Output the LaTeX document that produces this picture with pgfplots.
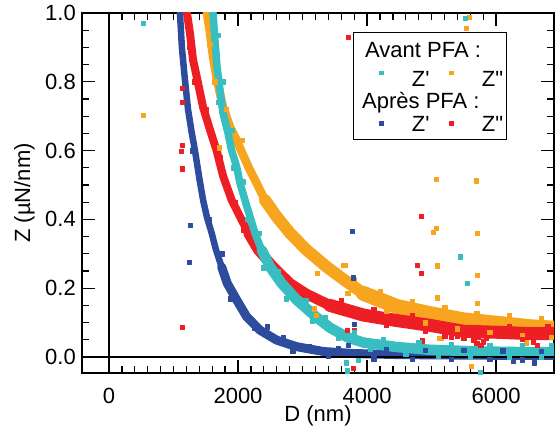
\documentclass[border=0pt]{standalone}
\usepackage{fontspec}
\setmainfont{Liberation Sans}
\usepackage{pgfplots}
\usepackage{pgfplotstable}
\pgfplotsset{compat=1.18}
\definecolor{cZa}{RGB}{56,190,193}
\definecolor{cZb}{RGB}{247,165,30}
\definecolor{bZa}{RGB}{46,76,158}
\definecolor{bZb}{RGB}{237,30,36}
\newcommand{\bigf}{\fontsize{22}{26}\selectfont}

\pgfplotstableread{
x y
1080 1.06
1100 1.00
1130 0.90
1175 0.81
1225 0.72
1280 0.655
1333 0.60
1400 0.52
1460 0.455
1520 0.405
1592 0.36
1659 0.311
1746 0.262
1834 0.214
1979 0.166
2134 0.117
2341 0.078
2599 0.049
2909 0.030
3322 0.016
3800 0.010
4500 0.007
5200 0.006
6000 0.005
6950 0.005
}\blueZa

\pgfplotstableread{
x y
1195 1.05
1209 1.00
1256 0.94
1302 0.865
1380 0.797
1457 0.727
1566 0.66
1669 0.60
1770 0.525
1902 0.456
2031 0.408
2160 0.360
2315 0.311
2547 0.262
2806 0.214
3064 0.183
3426 0.150
3942 0.122
4459 0.106
4976 0.092
5492 0.075
6009 0.072
6526 0.068
6950 0.068
}\redZb

\pgfplotstableread{
x y
1600 1.05
1612 1.00
1643 0.92
1674 0.845
1721 0.776
1767 0.709
1845 0.651
1902 0.60
1979 0.553
2031 0.505
2108 0.456
2186 0.408
2263 0.360
2367 0.311
2496 0.262
2677 0.214
2909 0.166
3219 0.115
3426 0.085
3700 0.057
3942 0.042
4459 0.029
4976 0.021
5750 0.016
6526 0.014
6950 0.014
}\cyanZa

\pgfplotstableread{
x y
1505 1.05
1519 1.00
1566 0.942
1612 0.872
1674 0.805
1767 0.727
1876 0.669
1984 0.628
2060 0.595
2160 0.553
2289 0.505
2418 0.456
2599 0.408
2806 0.360
3064 0.311
3374 0.262
3632 0.226
3942 0.185
4459 0.147
4976 0.126
5492 0.108
6009 0.098
6526 0.088
6950 0.083
}\orangeZb

\begin{document}
\begin{tikzpicture}
\begin{axis}[
  width=472pt, height=360pt, scale only axis,
  xmin=-418, xmax=6897, ymin=-0.0465, ymax=1.0,
  xtick={0,2000,4000,6000}, minor x tick num=9,
  ytick={0,0.2,0.4,0.6,0.8,1.0}, minor y tick num=3,
  scaled x ticks=false, scaled y ticks=false,
  /pgf/number format/assume math mode=true,
  x tick label style={/pgf/number format/1000 sep={}, font=\bigf, anchor=north, inner sep=0pt, yshift=-15pt},
  y tick label style={/pgf/number format/fixed, /pgf/number format/fixed zerofill, /pgf/number format/precision=1, font=\bigf, anchor=east, inner sep=0pt, xshift=-6pt},
  axis line style={line width=1.8pt},
  tick align=inside,
  major tick length=13pt, minor tick length=7pt,
  tick style={black, line width=1.3pt},
  xlabel={D (nm)}, ylabel={Z (µN/nm)},
  xlabel style={font=\bigf, at={(axis description cs:0.5,0)}, anchor=north, inner sep=0pt, yshift=-32pt},
  ylabel style={font=\bigf, at={(axis description cs:0,0.5)}, anchor=south, inner sep=0pt, yshift=47pt},
  every axis plot/.append style={line join=round, line cap=round},
]
% bands
\addplot[cZb, line width=8.5pt, restrict x to domain=0:2599] table[x=x,y=y] {\orangeZb};
\addplot[cZb, line width=12pt, restrict x to domain=2418:4459] table[x=x,y=y] {\orangeZb};
\addplot[cZb, line width=15pt, restrict x to domain=3942:8000] table[x=x,y=y] {\orangeZb};
\addplot[bZb, line width=8pt, restrict x to domain=0:2315] table[x=x,y=y] {\redZb};
\addplot[bZb, line width=10.5pt, restrict x to domain=2160:3942] table[x=x,y=y] {\redZb};
\addplot[bZb, line width=13pt, restrict x to domain=3426:8000] table[x=x,y=y] {\redZb};
\addplot[bZa, line width=6.5pt, restrict x to domain=0:1834] table[x=x,y=y] {\blueZa};
\addplot[bZa, line width=9pt, restrict x to domain=1746:8000] table[x=x,y=y] {\blueZa};
\addplot[cZa, line width=7.5pt, restrict x to domain=0:2496] table[x=x,y=y] {\cyanZa};
\addplot[cZa, line width=10.5pt, restrict x to domain=2367:8000] table[x=x,y=y] {\cyanZa};
% scattered points
\addplot[only marks, mark=square*, mark size=2.2pt, cZb] coordinates {
(527,0.703) (5580,0.988) (5533,0.956) (5069,0.517) (5688,0.512) (5069,0.375) (5022,0.363) (5704,0.360)
(5084,0.265) (5704,0.238) (3627,0.267) (3660,0.267) (5084,0.172) (5704,0.157) (5115,0.055) (5140,0.055)
(6464,0.041) (5611,-0.026) (3224,0.244) (3178,0.140) (3209,0.122) (1705,0.608)
(4200,0.190) (4300,0.135) (4700,0.162) (4900,0.100) (5200,0.145) (5400,0.082) (5700,0.128) (5900,0.072)
(6200,0.120) (6400,0.064) (6700,0.112) (6850,0.058) (3800,0.225) (3700,0.185)
(1560,0.91) (1640,0.80) (1820,0.72) (2060,0.63)
};
\addplot[only marks, mark=square*, mark size=2.2pt, bZb] coordinates {
(1131,0.782) (1131,0.741) (1131,0.616) (1116,0.599) (1131,0.547) (1131,0.087) (3705,0.930) (4836,0.410)
(4774,0.267) (4836,0.244) (3689,0.078) (3798,0.078) (4852,0.047) (3782,-0.032) (6572,0.044) (6634,0.035)
(5200,0.062) (5300,0.058) (5400,0.060) (5500,0.055) (5650,0.050) (5700,0.040) (5760,0.035) (5800,0.045)
(5850,0.055) (5720,0.058)
(3600,0.165) (4100,0.138) (4300,0.092) (4700,0.120) (4900,0.075) (6200,0.090) (6400,0.052) (6800,0.088)
(1240,0.90) (1330,0.80) (1500,0.72) (1720,0.58) (1960,0.45) (2090,0.37)
};
\addplot[only marks, mark=square*, mark size=2.2pt, bZa] coordinates {
(1256,0.384) (1240,0.276) (3767,0.366) (3782,0.230) (3798,0.096) (3705,0.035) (6262,-0.012) (6588,-0.017)
(1290,0.60) (1555,0.40) (1745,0.30) (1880,0.17) (2050,0.15) (2250,0.085) (2450,0.088) (2700,0.058)
(2850,0.018) (3100,0.032) (3400,0.002) (3550,0.024) (4100,-0.005) (4300,0.021) (4700,-0.006) (4900,0.020)
(5300,-0.007) (5500,0.019) (5900,-0.007) (6100,0.018) (6400,-0.008) (6700,0.017)
};
\addplot[only marks, mark=square*, mark size=2.2pt, cZa] coordinates {
(527,0.971) (5518,0.985) (5441,0.291) (5549,0.215) (3674,-0.017) (3860,-0.009) (3690,-0.040) (5750,-0.045)
(1690,0.936)
(1770,0.80) (1690,0.74) (1900,0.66) (1930,0.55) (2080,0.51) (2150,0.40) (2330,0.36) (2400,0.26)
(2620,0.25) (2750,0.17)
(3050,0.165) (3150,0.105) (3350,0.115) (3550,0.055) (3800,0.072) (4050,0.022) (4250,0.052) (4600,0.010)
(4800,0.043) (5100,0.003) (5300,0.037) (5600,0.000) (5900,0.035) (6200,0.000) (6400,0.033) (6700,-0.001)
(6850,0.034)
};
% zero lines
\addplot[black, line width=1.3pt, line cap=butt] coordinates {(0,-0.1) (0,1.1)};
\addplot[black, line width=1.3pt, line cap=butt] coordinates {(-500,0) (7000,0)};
% legend
\draw[line width=1.2pt, fill=white] (axis cs:3787,0.943) rectangle (axis cs:6164,0.633);
\node[font=\bigf, inner sep=0pt, anchor=base west] at (axis cs:3968,0.870) {Avant PFA :};
\node[font=\bigf, inner sep=0pt, anchor=base west] at (axis cs:4691,0.786) {Z\textquotesingle};
\node[font=\bigf, inner sep=0pt, anchor=base west] at (axis cs:5777,0.786) {Z\textquotedbl};
\node[font=\bigf, inner sep=0pt, anchor=base west] at (axis cs:3922,0.723) {Après PFA :};
\node[font=\bigf, inner sep=0pt, anchor=base west] at (axis cs:4691,0.655) {Z\textquotesingle};
\node[font=\bigf, inner sep=0pt, anchor=base west] at (axis cs:5777,0.655) {Z\textquotedbl};
\node[inner sep=0pt] at (axis cs:4226,0.825) {\textcolor{cZa}{\rule{4.5pt}{4.5pt}}};
\node[inner sep=0pt] at (axis cs:5311,0.825) {\textcolor{cZb}{\rule{4.5pt}{4.5pt}}};
\node[inner sep=0pt] at (axis cs:4226,0.679) {\textcolor{bZa}{\rule{4.5pt}{4.5pt}}};
\node[inner sep=0pt] at (axis cs:5311,0.679) {\textcolor{bZb}{\rule{4.5pt}{4.5pt}}};
\end{axis}
\pgfresetboundingbox
\path ([xshift=-82pt,yshift=-61pt]current axis.south west) rectangle ([xshift=1pt,yshift=13pt]current axis.north east);
\end{tikzpicture}
\end{document}
